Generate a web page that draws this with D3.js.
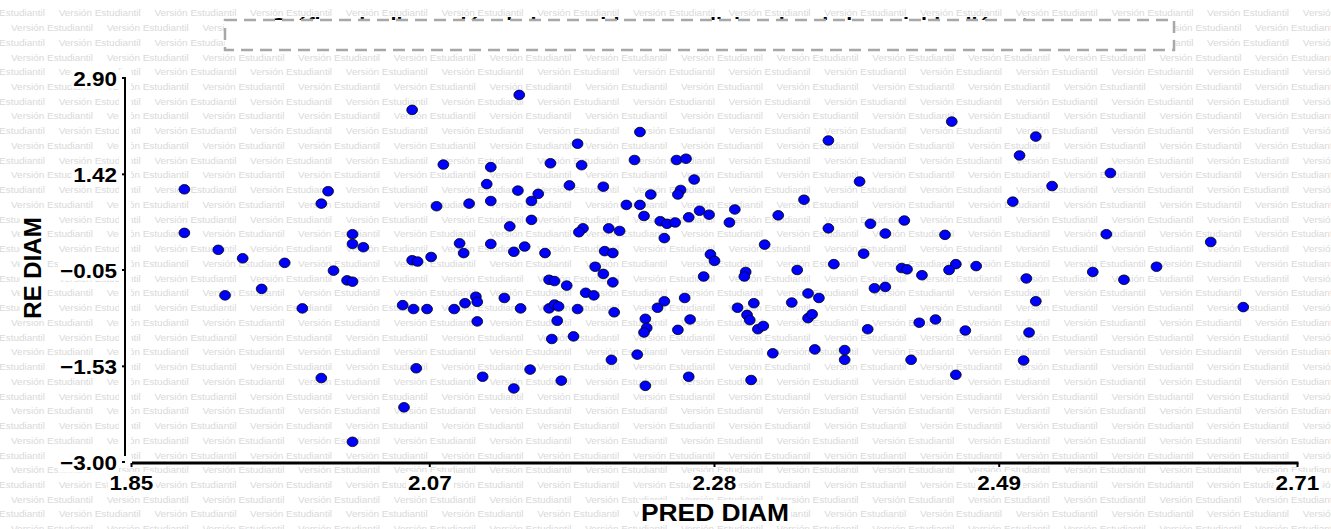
<!DOCTYPE html>
<html>
<head>
<meta charset="utf-8">
<script src="https://cdn.jsdelivr.net/npm/d3@7"></script>
<style>
  html, body { margin: 0; padding: 0; background: #ffffff; }
  svg { display: block; }
  text { font-family: "Liberation Sans", Arial, Helvetica, sans-serif; }
</style>
</head>
<body>
<svg id="chart" width="1331" height="529"></svg>
<script>
// Predicted diameter (x) and residual of diameter (y), one entry per observation
const predDiam = [
  1.889, 1.889, 1.914, 1.932, 1.963, 1.999, 1.995, 1.990, 2.013, 2.013,
  2.021, 2.057, 2.057, 2.061, 2.071, 2.075, 2.080, 2.092, 2.095, 2.099,
  2.112, 2.115, 2.115, 2.115, 2.129, 2.132, 2.135, 2.136, 2.225, 2.179,
  2.364, 2.159, 2.182, 2.221, 2.252, 2.259, 2.265, 2.387, 2.150, 2.145,
  2.173, 2.198, 2.233, 2.255, 2.253, 2.346, 2.215, 2.225, 2.228, 2.240,
  2.245, 2.251, 2.261, 2.269, 2.276, 2.295, 2.291, 2.327, 2.145, 2.183,
  2.180, 2.202, 2.210, 2.243, 2.364, 2.395, 2.406, 2.420, 2.140, 2.155,
  2.199, 2.205, 2.317, 2.277, 2.280, 2.390, 2.192, 2.368, 2.341, 2.303,
  2.418, 2.422, 2.198, 2.455, 2.517, 2.505, 2.572, 2.529, 2.500, 2.450,
  2.569, 2.646, 2.458, 2.473, 2.453, 2.559, 2.606, 2.009, 2.013, 1.919,
  1.946, 1.976, 2.050, 2.058, 2.068, 2.088, 2.096, 2.104, 2.105, 2.125,
  2.137, 2.105, 2.060, 1.990, 2.109, 2.132, 2.051, 2.013, 2.158, 2.162,
  2.171, 2.205, 2.185, 2.191, 2.272, 2.302, 2.158, 2.162, 2.165, 2.179,
  2.206, 2.164, 2.160, 2.176, 2.144, 2.167, 2.204, 2.223, 2.229, 2.229,
  2.230, 2.228, 2.238, 2.243, 2.258, 2.262, 2.253, 2.261, 2.297, 2.309,
  2.304, 2.306, 2.312, 2.316, 2.307, 2.323, 2.337, 2.349, 2.357, 2.349,
  2.352, 2.354, 2.376, 2.376, 2.398, 2.406, 2.393, 2.425, 2.433, 2.510,
  2.582, 2.517, 2.670, 2.431, 2.443, 2.465, 2.512, 2.508, 2.458
];
const reDiam = [
  1.19, 0.52, 0.26, 0.13, 0.06, -0.06, 1.16, 0.97, 0.50, 0.35,
  0.30, 2.41, 0.10, 0.08, 0.15, 0.93, 1.57, 0.36, 0.21, 0.97,
  1.27, 1.53, 1.01, 0.35, 0.62, 0.23, 1.17, 2.64, 2.07, 1.89,
  1.94, 1.59, 1.56, 1.64, 1.64, 1.66, 1.34, 1.31, 1.12, 1.01,
  1.25, 1.23, 1.11, 1.18, 1.11, 1.03, 0.95, 0.95, 0.78, 0.70,
  0.66, 0.68, 0.76, 0.86, 0.80, 0.88, 0.68, 0.79, 0.72, 0.59,
  0.53, 0.59, 0.55, 0.44, 0.59, 0.66, 0.51, 0.71, 0.31, 0.21,
  0.24, 0.21, 0.34, 0.19, 0.09, 0.20, 0.00, 0.04, -0.05, -0.08,
  -0.02, -0.04, -0.11, 2.23, 2.00, 1.71, 1.44, 1.24, 1.00, 0.49,
  0.50, 0.38, 0.04, 0.01, -0.05, -0.08, 0.00, -0.21, -0.23, -0.44,
  -0.34, -0.64, -0.59, -0.65, -0.65, -0.65, -0.56, -0.46, -0.54, -0.48,
  -0.64, -0.84, -1.56, -1.71, -1.69, -1.87, -2.16, -2.69, -0.20, -0.22,
  -0.29, -0.24, -0.40, -0.44, -0.15, -0.15, -0.64, -0.58, -0.61, -0.65,
  -0.70, -0.83, -1.11, -1.07, -1.58, -1.75, -1.43, -1.35, -1.83, -0.80,
  -0.94, -1.01, -0.63, -0.53, -0.48, -0.81, -0.97, -1.69, -0.63, -0.56,
  -0.74, -0.82, -0.96, -0.91, -1.74, -1.33, -0.55, -0.41, -0.48, -0.79,
  -0.73, -1.27, -1.28, -1.43, -0.33, -0.31, -0.96, -1.43, -0.13, -0.18,
  -0.20, -0.53, -0.62, -0.86, -0.81, -0.98, -1.01, -1.44, -1.66
];
const xTicks = [1.85, 2.07, 2.28, 2.49, 2.71];
const yTicks = [2.90, 1.42, -0.05, -1.53, -3.00];
const xTitle = "PRED DIAM";
const yTitle = "RE DIAM";
const chartTitle = "Gráfico de dispersión de los residuos condicionales de la variable diámetro";
const watermark = "Versión Estudiantil";

const W = 1331, H = 529;
const svg = d3.select("#chart");

const x = d3.scaleLinear().domain([xTicks[0], xTicks[xTicks.length - 1]]).range([131.5, 1297.5]);
const y = d3.scaleLinear().domain([yTicks[yTicks.length - 1], yTicks[0]]).range([462, 78]);

svg.append("rect").attr("width", W).attr("height", H).attr("fill", "#ffffff");

// Repeating licence watermark, brick pattern
const wm = svg.append("g").attr("fill", "#d9d9d9").style("font-size", "9.3px");
const rowStep = 14.74, colStep = 95.7;
for (let k = 0; 13 + k * rowStep < H + 10; k++) {
  const cy = 13 + k * rowStep;
  const start = (k % 2 === 0 ? 58.7 : 11.0) - colStep;
  for (let sx = start; sx < W; sx += colStep) {
    wm.append("text")
      .attr("x", sx).attr("y", cy + 3.3)
      .attr("textLength", 82).attr("lengthAdjust", "spacingAndGlyphs")
      .text(watermark);
  }
}

// Title, partly covered by the dashed text box
svg.append("text")
  .attr("x", 660).attr("y", 32)
  .attr("text-anchor", "middle")
  .attr("textLength", 780).attr("lengthAdjust", "spacingAndGlyphs")
  .style("font-size", "20px").style("font-weight", "bold")
  .attr("fill", "#000")
  .text(chartTitle);

svg.append("rect")
  .attr("x", 225).attr("y", 20).attr("width", 949).attr("height", 30)
  .attr("fill", "#ffffff")
  .attr("stroke", "#a8a8a8").attr("stroke-width", 2.5)
  .attr("stroke-dasharray", "12,7");

// White band behind the vertical axis
svg.append("rect").attr("x", 119).attr("y", 70).attr("width", 12).attr("height", 396).attr("fill", "#ffffff");

// Helper: text with a white backing box
function label(g, attrs, txt, stretch) {
  const t = g.append("text").text(txt);
  Object.entries(attrs).forEach(([k, v]) => t.attr(k, v));
  if (stretch) {
    const len = t.node().getComputedTextLength();
    t.attr("textLength", len * stretch).attr("lengthAdjust", "spacingAndGlyphs");
  }
  const b = t.node().getBBox();
  g.insert("rect", () => t.node())
    .attr("x", b.x - 2).attr("y", b.y + 1).attr("width", b.width + 4).attr("height", b.height - 2)
    .attr("fill", "#ffffff");
  return t;
}

// Axes lines and ticks
const axes = svg.append("g").attr("stroke", "#000");
axes.append("line")
  .attr("x1", 125).attr("x2", 125)
  .attr("y1", y(yTicks[0]) - 1).attr("y2", y(yTicks[yTicks.length - 1]) - 6)
  .attr("stroke-width", 2);
axes.selectAll(".yt").data(yTicks).join("line")
  .attr("x1", 122).attr("x2", 125)
  .attr("y1", d => y(d)).attr("y2", d => y(d))
  .attr("stroke-width", 2);
axes.append("line")
  .attr("x1", x(xTicks[0]) + 0.5).attr("x2", x(xTicks[xTicks.length - 1]) + 1)
  .attr("y1", 463).attr("y2", 463)
  .attr("stroke-width", 3);
axes.selectAll(".xt").data(xTicks).join("line")
  .attr("x1", d => x(d)).attr("x2", d => x(d))
  .attr("y1", 463).attr("y2", 467)
  .attr("stroke-width", 2);

// Tick labels
const fmt = d3.format(".2f");
const labels = svg.append("g").attr("fill", "#000").style("font-weight", "bold");
yTicks.forEach(v => {
  label(labels, { x: 117, y: y(v) + 7.5, "text-anchor": "end", "font-size": "21px" }, fmt(v), 1.07);
});
xTicks.forEach(v => {
  label(labels, { x: x(v), y: 490, "text-anchor": "middle", "font-size": "21px" }, fmt(v), 1.07);
});

// Axis titles
label(labels, { x: 715, y: 521, "text-anchor": "middle", "font-size": "24px" }, xTitle, 1.1);
const yl = labels.append("g").attr("transform", "translate(41,268) rotate(-90)");
label(yl, { x: 0, y: 0, "text-anchor": "middle", "font-size": "24px" }, yTitle);

// Observations
svg.append("g").selectAll("ellipse")
  .data(predDiam.map((p, i) => [p, reDiam[i]]))
  .join("ellipse")
  .attr("cx", d => x(d[0]))
  .attr("cy", d => y(d[1]))
  .attr("rx", 5.4).attr("ry", 4.8)
  .attr("fill", "#0000ff")
  .attr("stroke", "#000").attr("stroke-width", 0.8);
</script>
</body>
</html>
